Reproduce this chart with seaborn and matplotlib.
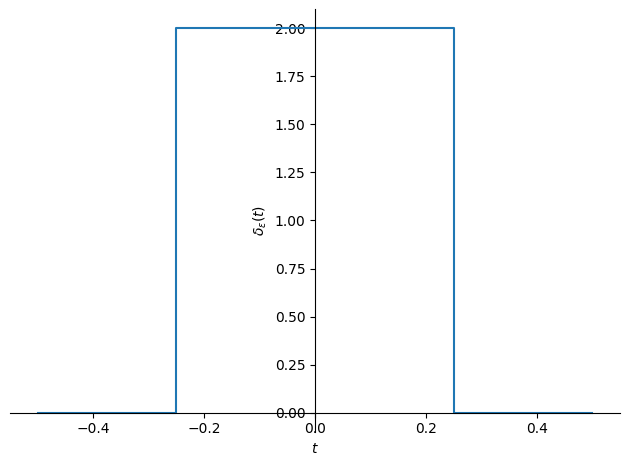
import numpy as np
import pandas as pd
import seaborn as sns
from matplotlib import pyplot as plt

# rectangular pulse delta_eps(t), eps = 0.5
t_values = [-0.5, -0.25, -0.25, 0.25, 0.25, 0.5]
delta_values = [0.0, 0.0, 2.0, 2.0, 0.0, 0.0]

df = pd.DataFrame({'t': t_values, 'delta': delta_values})

fig, ax = plt.subplots(figsize=(6.3, 4.67), dpi=100)
sns.lineplot(data=df, x='t', y='delta', sort=False, estimator=None, color='C0', ax=ax)

ax.spines['left'].set_position('zero')
ax.spines['bottom'].set_position('zero')
ax.spines['right'].set_color('none')
ax.spines['top'].set_color('none')
ax.xaxis.set_ticks_position('bottom')
ax.yaxis.set_ticks_position('left')

ax.set_xlabel('$t$')
ax.set_ylabel(r'$\delta_{\epsilon}{\left(t \right)}$')

fig.subplots_adjust(left=0.016, right=0.984, top=0.981, bottom=0.075)
fig.savefig('out.png')
